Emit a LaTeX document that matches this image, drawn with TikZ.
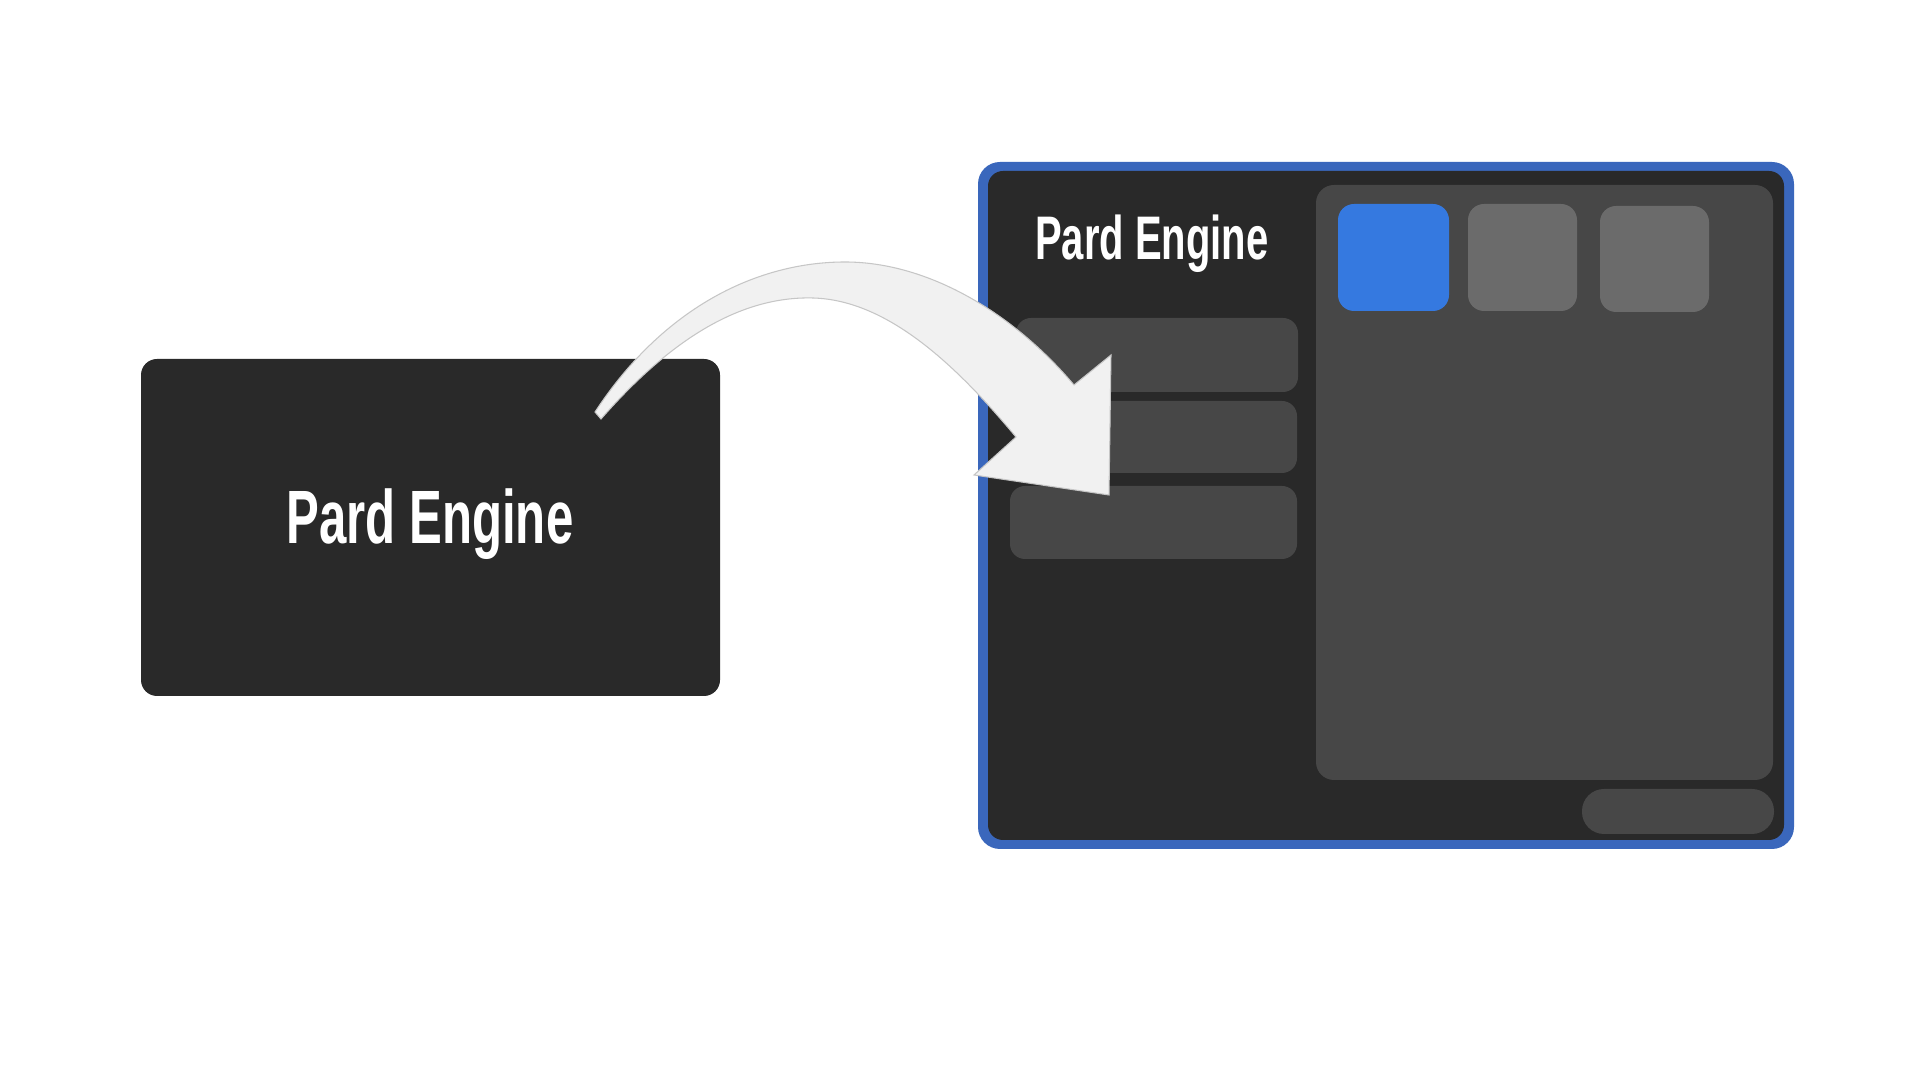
\documentclass[tikz,border=0pt]{standalone}
\usepackage{fontspec}
\usepackage{tikz}
\newfontfamily\pardfont[FakeStretch=0.65]{Liberation Sans}
\definecolor{pardbg}{HTML}{292929}
\definecolor{pardgray}{HTML}{474747}
\definecolor{pardtile}{HTML}{6B6B6B}
\definecolor{pardaccent}{HTML}{3579E0}
\definecolor{pardblue}{HTML}{3A67BC}
\definecolor{arrowfill}{HTML}{F1F1F1}

\begin{document}
\begin{tikzpicture}[x=0.01cm,y=-0.01cm,
  btn/.style={fill=pardgray,rounded corners=0.15cm},
  tile/.style={fill=pardtile,rounded corners=0.16cm},
  pardtitle/.style={text=white,anchor=base,inner sep=0pt,font=\pardfont\bfseries}]
\useasboundingbox (0,0) rectangle (1920,1080);
\fill[white](0,0) rectangle (1920,1080);

\fill[pardbg,rounded corners=0.16cm](141,359) rectangle (720,696);
\node[pardtitle,font=\pardfont\bfseries\fontsize{21.5pt}{24pt}\selectfont] (leftname) at (430,544) {Pard Engine};

\fill[pardblue,rounded corners=0.22cm](978,162) rectangle (1794,849);
\fill[pardbg,rounded corners=0.15cm](988,171) rectangle (1784,840);
\node[pardtitle,font=\pardfont\bfseries\fontsize{17.5pt}{20pt}\selectfont] (winname) at (1152,260) {Pard Engine};
\fill[btn](1016,318) rectangle (1298,392);
\fill[btn](1016,401) rectangle (1297,473);
\fill[btn](1010,486) rectangle (1297,559);
\fill[btn,rounded corners=0.18cm](1316,185) rectangle (1773,780);
\fill[tile,fill=pardaccent](1338,204) rectangle (1449,311);
\fill[tile](1468,204) rectangle (1577,311);
\fill[tile](1600,206) rectangle (1709,312);
\fill[btn,rounded corners=0.22cm](1582,789) rectangle (1774,834);

\filldraw[fill=arrowfill,draw=gray!45,line width=0.3pt](595,412) .. controls (665,305) and (760,262) .. (845,262) .. controls (930,262) and (1015,315) .. (1074,385) -- (1111,355) -- (1109,495) -- (974,475) -- (1016,437) .. controls (960,370) and (890,300) .. (813,298) .. controls (740,296) and (670,340) .. (601,419) -- cycle;
\end{tikzpicture}
\end{document}
